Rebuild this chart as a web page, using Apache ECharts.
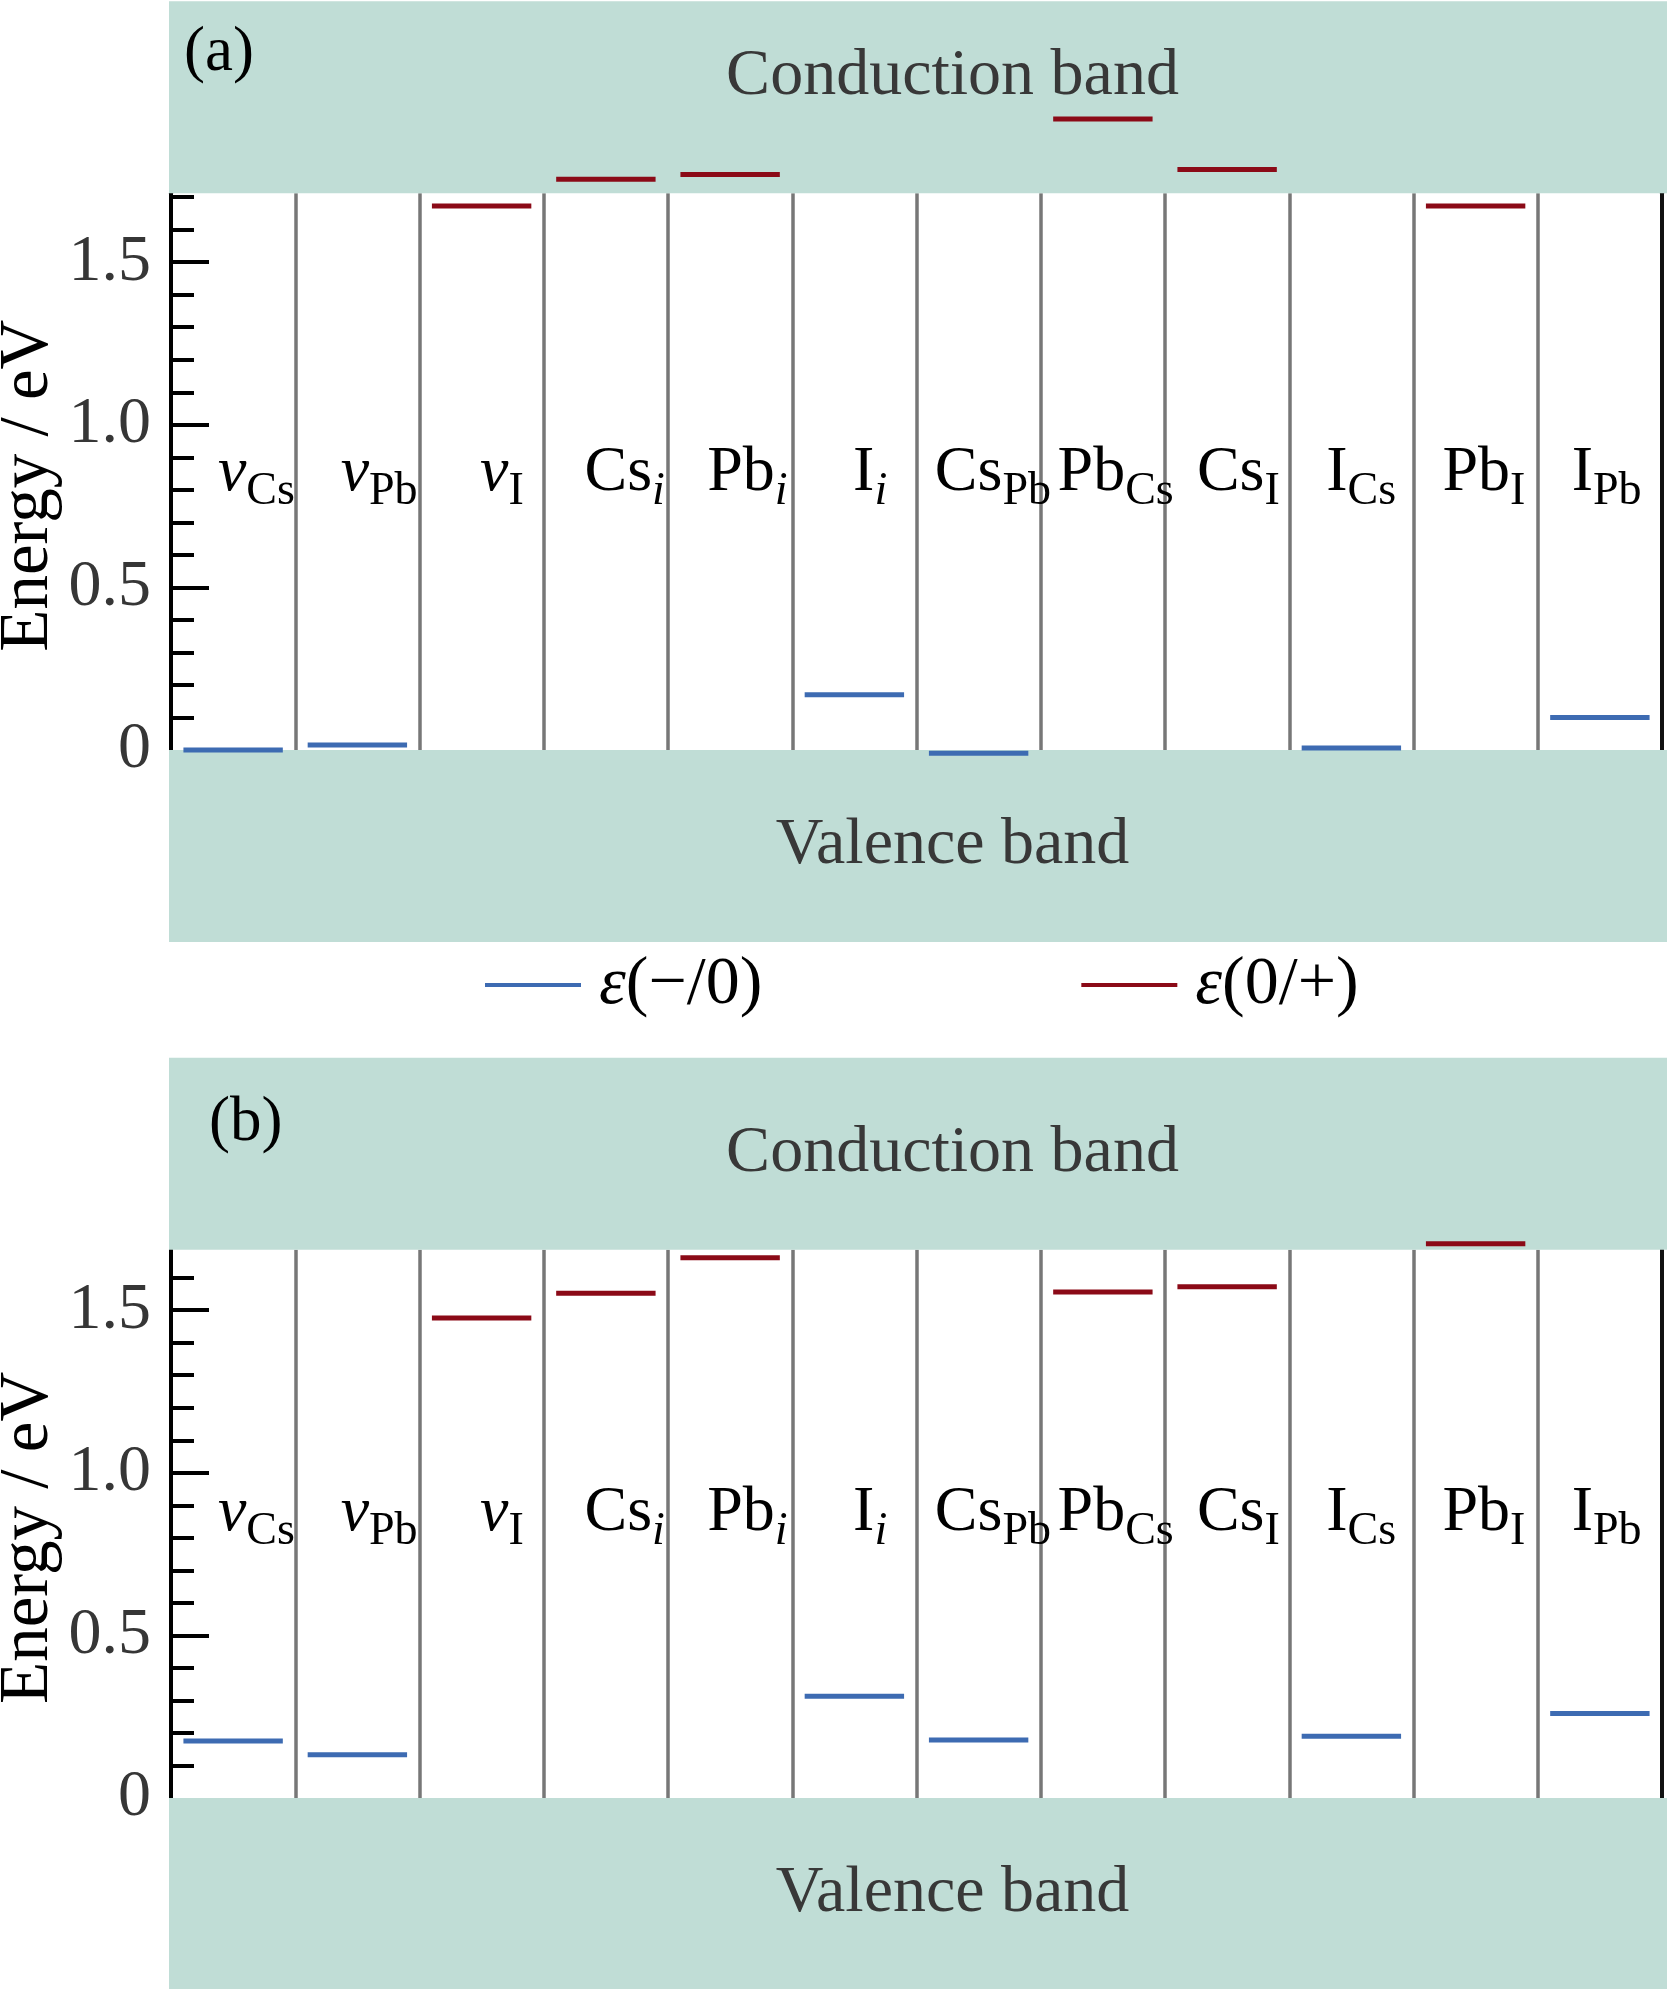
<!DOCTYPE html>
<html><head><meta charset="utf-8">
<script src="https://cdn.jsdelivr.net/npm/echarts@6/dist/echarts.min.js"></script>
<style>html,body{margin:0;padding:0;background:#fff}#chart{width:1667px;height:1989px}</style>
</head><body><div id="chart"></div>
<script>
// ---------------- data ----------------
const categories = ['vCs', 'vPb', 'vI', 'Csi', 'Pbi', 'Ii', 'CsPb', 'PbCs', 'CsI', 'ICs', 'PbI', 'IPb'];
const categoryLabels = [
  '{it|v}{sub|Cs}', '{it|v}{sub|Pb}', '{it|v}{sub|I}', '{m|Cs}{subi|i}', '{m|Pb}{subi|i}', '{m|I}{subi|i}',
  '{m|Cs}{sub|Pb}', '{m|Pb}{sub|Cs}', '{m|Cs}{sub|I}', '{m|I}{sub|Cs}', '{m|Pb}{sub|I}', '{m|I}{sub|Pb}'
];
const seriesNames = ['ε(−/0)', 'ε(0/+)'];
// panel (a)
const levelMinusA = [0.00, 0.015, null, null, null, 0.17, -0.01, null, null, 0.006, null, 0.10];
const levelPlusA  = [null, null, 1.673, 1.755, 1.77, null, null, 1.94, 1.785, null, 1.673, null];
// panel (b)
const levelMinusB = [0.175, 0.133, null, null, null, 0.313, 0.178, null, null, 0.19, null, 0.26];
const levelPlusB  = [null, null, 1.476, 1.552, 1.661, null, null, 1.556, 1.572, null, 1.704, null];
// band edges (eV)
const vbmA = 0, cbmA = 1.712;
const vbmB = 0, cbmB = 1.686;
// axis ticks / labels
const tickLabelValues = [0, 0.5, 1.0, 1.5];
const majorTickValues = [0.5, 1.0, 1.5];
const minorTickValuesA = [0.1, 0.2, 0.3, 0.4, 0.6, 0.7, 0.8, 0.9, 1.1, 1.2, 1.3, 1.4, 1.6, 1.7];
const minorTickValuesB = [0.1, 0.2, 0.3, 0.4, 0.6, 0.7, 0.8, 0.9, 1.1, 1.2, 1.3, 1.4, 1.6];
const bandNames = ['Valence band', 'Conduction band'];
const panelTags = ['(a)', '(b)'];

// ---------------- style ----------------
const FONT = '"Liberation Serif", "Times New Roman", serif';
const BLUE = '#3D6BB2', RED = '#8B0A17', TEAL = '#C0DDD6', GREY = '#777777';
const PX_PER_EV = 325.2;
const BAND_H = 192;

function toPairs(arr) {
  const out = [];
  arr.forEach((v, i) => { if (v !== null) out.push([i, v]); });
  return out;
}

function levelSeries(name, data, color, xi, yi) {
  return {
    type: 'custom', name: name, xAxisIndex: xi, yAxisIndex: yi, z: 5,
    itemStyle: { color: color },
    encode: { x: 0, y: 1 },
    data: toPairs(data),
    renderItem: function (params, api) {
      const p = api.coord([api.value(0), api.value(1)]);
      const w = api.size([1, 0])[0] * 0.8;
      return { type: 'line', shape: { x1: p[0] - w / 2, y1: p[1], x2: p[0] + w / 2, y2: p[1] },
        style: { stroke: color, lineWidth: 5 } };
    }
  };
}

function bandSeries(vbm, cbm, xi, yi, cbTextDy) {
  return {
    type: 'custom', xAxisIndex: xi, yAxisIndex: yi, z: 1, silent: true,
    encode: { x: 0, y: 1 },
    data: [[0, vbm, 0], [0, cbm, 1]],
    renderItem: function (params, api) {
      const cs = params.coordSys;
      const edge = api.coord([0, api.value(1)])[1];
      const kind = api.value(2);
      const x0 = cs.x - 2, x1 = cs.x + cs.width + 5;
      const y0 = kind === 1 ? edge - BAND_H : edge;
      const cy = y0 + BAND_H / 2 + (kind === 1 ? cbTextDy : 0);
      return { type: 'group', children: [
        { type: 'rect', shape: { x: x0, y: y0, width: x1 - x0, height: BAND_H }, style: { fill: TEAL } },
        { type: 'text', style: { text: bandNames[kind], x: cs.x + cs.width / 2 + 36, y: cy,
            font: '66px ' + FONT, fill: '#383838', textAlign: 'center', textVerticalAlign: 'middle' } }
      ]};
    }
  };
}

const richLabel = {
  m:    { fontFamily: FONT, fontSize: 64, color: '#000', verticalAlign: 'top', lineHeight: 64 },
  it:   { fontFamily: FONT, fontSize: 64, fontStyle: 'italic', color: '#000', verticalAlign: 'top', lineHeight: 64 },
  sub:  { fontFamily: FONT, fontSize: 46, color: '#000', lineHeight: 102 },
  subi: { fontFamily: FONT, fontSize: 46, fontStyle: 'italic', color: '#000', lineHeight: 102 }
};

function plotAxesY(gridIndex, max, minorVals) {
  return [
    { type: 'value', gridIndex: gridIndex, min: 0, max: max, position: 'left',
      name: 'Energy / eV', nameLocation: 'middle', nameGap: 108, nameRotate: 90, nameMoveOverlap: false,
      nameTextStyle: { fontFamily: FONT, fontSize: 69, color: '#000', padding: [0, 28, 0, 0] },
      axisLine: { show: true, lineStyle: { color: '#000', width: 4 } },
      axisTick: { show: true, inside: true, length: 38, lineStyle: { color: '#000', width: 4 }, customValues: majorTickValues },
      axisLabel: { show: true, margin: 20, fontFamily: FONT, fontSize: 66, color: '#363636', customValues: tickLabelValues,
        formatter: v => (v === 0 ? '0' : v.toFixed(1)) },
      splitLine: { show: false } },
    { type: 'value', gridIndex: gridIndex, min: 0, max: max, position: 'left',
      axisLine: { show: false },
      axisTick: { show: true, inside: true, length: 23, lineStyle: { color: '#000', width: 4 }, customValues: minorVals },
      axisLabel: { show: false }, splitLine: { show: false } },
    { type: 'value', gridIndex: gridIndex, min: 0, max: max, position: 'right',
      axisLine: { show: true, lineStyle: { color: '#111', width: 4 } },
      axisTick: { show: false }, axisLabel: { show: false }, splitLine: { show: false } }
  ];
}

function plotAxisX(gridIndex) {
  return { type: 'category', gridIndex: gridIndex, data: categories, boundaryGap: true,
    axisLine: { show: false }, axisTick: { show: false, interval: 0 }, axisLabel: { show: false },
    splitLine: { show: true, interval: 0, lineStyle: { color: GREY, width: 3.5 } } };
}
function labelAxisX(gridIndex, margin) {
  return { type: 'category', gridIndex: gridIndex, data: categories, boundaryGap: true,
    axisLine: { show: false }, axisTick: { show: false }, splitLine: { show: false },
    axisLabel: { show: true, interval: 0, inside: true, margin: margin, verticalAlign: 'middle',
      formatter: (v, i) => categoryLabels[i], rich: richLabel } };
}
function hiddenY(gridIndex) {
  return { type: 'value', gridIndex: gridIndex, min: 0, max: 1, show: false };
}

// layout (pixels)
const gridA = { left: 171, top: 750 - cbmA * PX_PER_EV, width: 1491, height: cbmA * PX_PER_EV };
const gridB = { left: 171, top: 1798 - cbmB * PX_PER_EV, width: 1491, height: cbmB * PX_PER_EV };
const lblA = Object.assign({}, gridA, { left: 195, width: 1473 });
const lblB = Object.assign({}, gridB, { left: 195, width: 1473 });

const option = {
  animation: false,
  backgroundColor: '#fff',
  grid: [gridA, lblA, gridB, lblB].map(g => Object.assign({ containLabel: false, outerBoundsMode: 'none' }, g)),
  xAxis: [plotAxisX(0), labelAxisX(1, 258), plotAxisX(2), labelAxisX(3, 266)],
  yAxis: [].concat(plotAxesY(0, cbmA, minorTickValuesA), plotAxesY(2, cbmB, minorTickValuesB), [hiddenY(1), hiddenY(3)]),
  legend: {
    left: 485, top: 951, padding: 0, itemWidth: 96, itemHeight: 4, itemGap: 319, icon: 'rect',
    data: seriesNames,
    formatter: n => '{i|' + n.slice(0, 1) + '}{n|' + n.slice(1) + '}',
    textStyle: { fontFamily: FONT, fontSize: 68, color: '#000', padding: [0, 0, 0, 13],
      rich: { i: { fontFamily: FONT, fontSize: 68, fontStyle: 'italic', color: '#000' },
              n: { fontFamily: FONT, fontSize: 68, color: '#000' } } }
  },
  graphic: [
    { type: 'text', z: 100, left: 184, top: 22, style: { text: panelTags[0], font: '63px ' + FONT, fill: '#000' } },
    { type: 'text', z: 100, left: 209, top: 1092, style: { text: panelTags[1], font: '63px ' + FONT, fill: '#000' } }
  ],
  series: [
    bandSeries(vbmA, cbmA, 0, 0, -21),
    levelSeries(seriesNames[0], levelMinusA, BLUE, 0, 0),
    levelSeries(seriesNames[1], levelPlusA, RED, 0, 0),
    bandSeries(vbmB, cbmB, 2, 3, 0),
    levelSeries(seriesNames[0], levelMinusB, BLUE, 2, 3),
    levelSeries(seriesNames[1], levelPlusB, RED, 2, 3)
  ]
};

const chart = echarts.init(document.getElementById('chart'), null, { renderer: 'canvas' });
chart.setOption(option);
</script>
</body></html>
